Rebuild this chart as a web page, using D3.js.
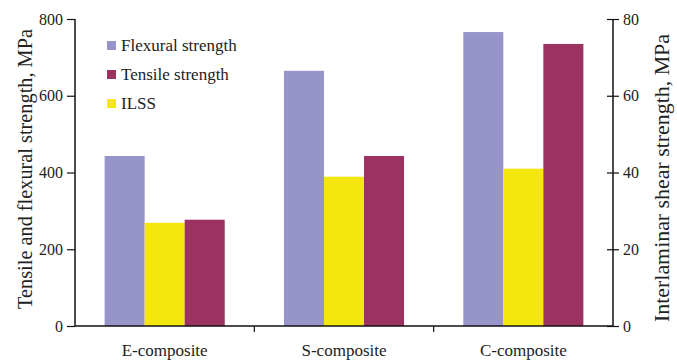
<!DOCTYPE html>
<html><head><meta charset="utf-8">
<script src="https://cdn.jsdelivr.net/npm/d3@7"></script>
<style>body{margin:0;background:#fff}svg{display:block}text{font-family:"Liberation Serif","Times New Roman",serif;fill:#222}</style>
</head><body><svg id="c" width="677" height="362"></svg>
<script>
const categories = ["E-composite","S-composite","C-composite"];
const flexural = [443, 665, 766];
const tensile = [277, 443, 735];
const ilss = [26.9, 38.9, 41];
const leftTicks = [0,200,400,600,800];
const rightTicks = [0,20,40,60,80];

const svg = d3.select("#c");
const L = 75, R = 613, T = 19, B = 326;
const x = d3.scaleBand().domain(categories).range([L,R]).paddingInner(0).paddingOuter(0);
const yL = d3.scaleLinear().domain([0,800]).range([B,T]);
const yR = d3.scaleLinear().domain([0,80]).range([B,T]);
const sub = d3.scaleBand().domain(["f","i","t"]).range([0,x.bandwidth()]).paddingInner(0).paddingOuter(0.74);

const colors = {f:"#9794c9", t:"#9b3262", i:"#f4e60f"};

const data = categories.map((c,k)=>({c, f:flexural[k], t:tensile[k], i:ilss[k]}));
const g = svg.append("g");
data.forEach(d=>{
  [["f",yL],["i",yR],["t",yL]].forEach(([k,s])=>{
    g.append("rect").attr("x", x(d.c)+sub(k)).attr("width", sub.bandwidth())
      .attr("y", s(d[k])).attr("height", B - s(d[k])).attr("fill", colors[k]);
  });
});

function fit(sel, target){
  sel.each(function(){
    const t = d3.select(this);
    const fs = parseFloat(t.style("font-size"));
    const len = this.getComputedTextLength();
    if (len > 0) t.style("font-size", (fs*target/len).toFixed(2)+"px");
  });
}

// left axis
const la = svg.append("g").attr("transform",`translate(${L},0)`)
  .call(d3.axisLeft(yL).tickValues(leftTicks).tickSize(8).tickPadding(4));
la.select(".domain").attr("stroke","#111").attr("stroke-width",1.5).attr("d",`M0,${T}V${B}`);
la.selectAll(".tick line").attr("stroke","#111").attr("stroke-width",1.2);
la.selectAll(".tick text").style("font-size","16px").style("font-family","Liberation Serif").attr("fill","#222");

// right axis
const ra = svg.append("g").attr("transform",`translate(${R},0)`)
  .call(d3.axisRight(yR).tickValues(rightTicks).tickSize(6).tickPadding(4));
ra.select(".domain").attr("stroke","#111").attr("stroke-width",1.5).attr("d",`M0,${T}V${B}`);
ra.selectAll(".tick line").attr("stroke","#111").attr("stroke-width",1.2).attr("x1",-6);
ra.selectAll(".tick text").style("font-size","16px").style("font-family","Liberation Serif").attr("fill","#222");

// bottom axis
const xa = svg.append("g").attr("transform",`translate(0,${B})`)
  .call(d3.axisBottom(x).tickSize(0).tickPadding(18));
xa.select(".domain").attr("stroke","#111").attr("stroke-width",1.5).attr("d",`M${L},0H${R}`);
xa.selectAll(".tick text").style("font-size","17px").style("font-family","Liberation Serif").attr("fill","#222");
categories.slice(1).forEach(c=>{
  xa.append("line").attr("x1",x(c)).attr("x2",x(c)).attr("y1",0).attr("y2",6).attr("stroke","#111").attr("stroke-width",1.2);
});

// titles
const t1 = svg.append("text").attr("transform",`translate(25,169) rotate(-90)`).attr("text-anchor","middle")
  .attr("dy","0.35em").style("font-size","18px").text("Tensile and flexural strength, MPa");
fit(t1, 280);
const t2 = svg.append("text").attr("transform",`translate(661,178) rotate(-90)`).attr("text-anchor","middle")
  .attr("dy","0.35em").style("font-size","18px").text("Interlaminar shear strength, MPa");
fit(t2, 288);

// legend
const legend = [["Flexural strength","f"],["Tensile strength","t"],["ILSS","i"]];
legend.forEach(([name,k],j)=>{
  const yy = 46 + j*29;
  svg.append("rect").attr("x",107).attr("y",yy-5).attr("width",9).attr("height",9).attr("fill",colors[k]);
  svg.append("text").attr("x",121).attr("y",yy+5).style("font-size","17px").text(name);
});
</script></body></html>
